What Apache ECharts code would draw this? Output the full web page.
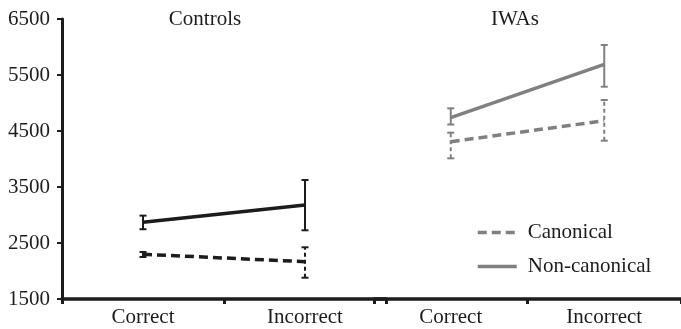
<!DOCTYPE html>
<html>
<head>
<meta charset="utf-8">
<script src="https://cdn.jsdelivr.net/npm/echarts@6/dist/echarts.min.js"></script>
<style>
html,body{margin:0;padding:0;background:#fff;}
#chart{width:681px;height:329px;}
</style>
</head>
<body>
<div id="chart"></div>
<script>
// ---- Data ----
const categories = ['Correct', 'Incorrect'];
const yTicks = [1500, 2500, 3500, 4500, 5500, 6500];
const groupTitles = ['Controls', 'IWAs'];
const legendNames = ['Canonical', 'Non-canonical'];

const controlsCanonical      = [2298, 2167];
const controlsCanonicalLow   = [2250, 1880];
const controlsCanonicalHigh  = [2340, 2423];
const controlsNonCanon       = [2870, 3179];
const controlsNonCanonLow    = [2746, 2727];
const controlsNonCanonHigh   = [2989, 3625];

const iwaCanonical           = [4309, 4684];
const iwaCanonicalLow        = [4012, 4327];
const iwaCanonicalHigh       = [4470, 5054];
const iwaNonCanon            = [4740, 5691];
const iwaNonCanonLow         = [4616, 5291];
const iwaNonCanonHigh        = [4905, 6036];

// ---- Styling ----
const FONT = '"Liberation Serif", "Times New Roman", serif';
const FS = 21;
const BLACK = '#1c1c1c';
const GRAY = '#808080';
const DASH = [9, 5];

function errData(low, high) {
  return categories.map((c, i) => [i, low[i], high[i]]);
}

function errorSeries(name, low, high, color, dashed, axisIdx) {
  return {
    name: name,
    type: 'custom',
    xAxisIndex: axisIdx,
    yAxisIndex: axisIdx,
    data: errData(low, high),
    encode: { x: 0, y: [1, 2] },
    z: 3,
    silent: true,
    renderItem: function (params, api) {
      const x = api.value(0);
      const lo = api.coord([x, api.value(1)]);
      const hi = api.coord([x, api.value(2)]);
      const cap = 3.5;
      const s = { stroke: color, lineWidth: 2, lineDash: dashed ? [4, 3] : null };
      const c = { stroke: color, lineWidth: 2 };
      return {
        type: 'group',
        children: [
          { type: 'line', shape: { x1: lo[0], y1: lo[1], x2: hi[0], y2: hi[1] }, style: s },
          { type: 'line', shape: { x1: hi[0] - cap, y1: hi[1], x2: hi[0] + cap, y2: hi[1] }, style: c },
          { type: 'line', shape: { x1: lo[0] - cap, y1: lo[1], x2: lo[0] + cap, y2: lo[1] }, style: c }
        ]
      };
    }
  };
}

function lineSeries(name, values, color, dashed, axisIdx) {
  return {
    name: name,
    type: 'line',
    xAxisIndex: axisIdx,
    yAxisIndex: axisIdx,
    data: values,
    symbol: 'none',
    z: 2,
    silent: true,
    itemStyle: { color: color },
    lineStyle: { color: color, width: 3.5, type: dashed ? DASH : 'solid' }
  };
}

function xAxis(gridIndex) {
  return {
    type: 'category',
    gridIndex: gridIndex,
    data: categories,
    boundaryGap: true,
    axisLine: { show: true, lineStyle: { color: BLACK, width: 3.5 } },
    axisTick: { show: true, length: 5, lineStyle: { color: BLACK, width: 3 } },
    axisLabel: { color: BLACK, fontFamily: FONT, fontSize: FS, margin: 8 },
    splitLine: { show: false }
  };
}

function yAxis(gridIndex, visible) {
  return {
    type: 'value',
    gridIndex: gridIndex,
    min: yTicks[0],
    max: yTicks[yTicks.length - 1],
    show: visible,
    axisLine: { show: true, lineStyle: { color: BLACK, width: 3 } },
    axisTick: { show: true, length: 5, customValues: yTicks, lineStyle: { color: BLACK, width: 2 } },
    axisLabel: { show: true, customValues: yTicks, formatter: v => String(v),
      color: BLACK, fontFamily: FONT, fontSize: FS, margin: 12 },
    splitLine: { show: false }
  };
}

const chart = echarts.init(document.getElementById('chart'), null, { renderer: 'canvas' });
chart.setOption({
  animation: false,
  backgroundColor: '#ffffff',
  title: [
    { text: groupTitles[0], left: 200, top: 4, textAlign: 'center',
      textStyle: { fontFamily: FONT, fontSize: FS, fontWeight: 'normal', color: BLACK } },
    { text: groupTitles[1], left: 510, top: 4, textAlign: 'center',
      textStyle: { fontFamily: FONT, fontSize: FS, fontWeight: 'normal', color: BLACK } }
  ],
  grid: [
    { left: 62, top: 19, width: 324, height: 280, containLabel: false },
    { left: 374, top: 19, width: 312, height: 280, containLabel: false }
  ],
  xAxis: [xAxis(0), xAxis(1)],
  yAxis: [yAxis(0, true), yAxis(1, false)],
  legend: {
    orient: 'vertical',
    left: 476,
    top: 222,
    padding: 0,
    itemWidth: 39,
    itemHeight: 3,
    itemGap: 13,
    selectedMode: false,
    data: legendNames,
    lineStyle: { width: 3.5 },
    textStyle: { fontFamily: FONT, fontSize: FS, color: BLACK, padding: [0, 0, 0, 6] }
  },
  series: [
    lineSeries('Controls Canonical', controlsCanonical, BLACK, true, 0),
    lineSeries('Controls Non-canonical', controlsNonCanon, BLACK, false, 0),
    errorSeries('Controls Canonical err', controlsCanonicalLow, controlsCanonicalHigh, BLACK, true, 0),
    errorSeries('Controls Non-canonical err', controlsNonCanonLow, controlsNonCanonHigh, BLACK, false, 0),
    lineSeries(legendNames[0], iwaCanonical, GRAY, true, 1),
    lineSeries(legendNames[1], iwaNonCanon, GRAY, false, 1),
    errorSeries('IWAs Canonical err', iwaCanonicalLow, iwaCanonicalHigh, GRAY, true, 1),
    errorSeries('IWAs Non-canonical err', iwaNonCanonLow, iwaNonCanonHigh, GRAY, false, 1)
  ]
});
</script>
</body>
</html>
